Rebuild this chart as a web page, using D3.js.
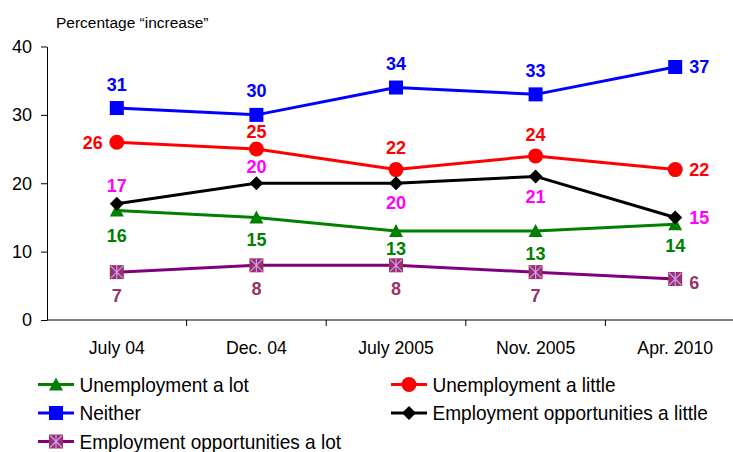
<!DOCTYPE html>
<html>
<head>
<meta charset="utf-8">
<script src="https://cdn.jsdelivr.net/npm/d3@7"></script>
<style>
  html, body { margin: 0; padding: 0; background: #fff; }
  svg { display: block; }
  text { font-family: "Liberation Sans", Arial, sans-serif; }
</style>
</head>
<body>
<svg id="chart" width="733" height="452"></svg>
<script>
// Survey waves
const categories = ["July 04", "Dec. 04", "July 2005", "Nov. 2005", "Apr. 2010"];
// Percentage of respondents per answer
const unemploymentLot = [16, 15, 13, 13, 14];
const unemploymentLittle = [26, 25, 22, 24, 22];
const neither = [31, 30, 34, 33, 37];
const employmentLittle = [17, 20, 20, 21, 15];
const employmentLot = [7, 8, 8, 7, 6];
const yTicks = [0, 10, 20, 30, 40];

const svg = d3.select("#chart");

const x = d3.scaleBand().domain(categories).range([47, 745]).paddingInner(0).paddingOuter(0);
const y = d3.scaleLinear().domain([0, 40]).range([320, 46.5]);

// where each value label sits relative to its point: [dx, dy, anchor]
const A = (dy) => [0, dy, "middle"];
const R = [14, 0, "start"];
const L = [-14, 0, "end"];

const series = [
  { name: "Unemployment a lot", values: unemploymentLot, line: "#008000", labelColor: "#008000", marker: "triangle",
    labels: [A(25), A(22), A(17), A(22), A(21)] },
  { name: "Unemployment a little", values: unemploymentLittle, line: "#FF0000", labelColor: "#FF0000", marker: "circle",
    labels: [L, A(-18), A(-22), A(-21), R] },
  { name: "Neither", values: neither, line: "#0000FF", labelColor: "#0000FF", marker: "square",
    labels: [A(-24), A(-24), A(-24), A(-24), R] },
  { name: "Employment opportunities a little", values: employmentLittle, line: "#000000", labelColor: "#FF00FF", marker: "diamond",
    labels: [A(-18), A(-17), A(19), A(20), R] },
  { name: "Employment opportunities a lot", values: employmentLot, line: "#800080", labelColor: "#993366", marker: "star",
    labels: [A(23), A(23), A(23), A(23), [14, 4, "start"]] }
];

function drawMarker(g, type, color) {
  if (type === "triangle") {
    g.append("path").attr("d", "M0,-7 L7,6 L-7,6 Z").attr("fill", color);
  } else if (type === "circle") {
    g.append("circle").attr("r", 7.5).attr("fill", color);
  } else if (type === "square") {
    g.append("rect").attr("x", -7).attr("y", -7).attr("width", 14).attr("height", 14).attr("fill", color);
  } else if (type === "diamond") {
    g.append("path").attr("d", "M0,-7 L7,0 L0,7 L-7,0 Z").attr("fill", "#000");
  } else if (type === "star") {
    g.append("rect").attr("x", -7).attr("y", -7).attr("width", 14).attr("height", 14).attr("fill", "#993366");
    g.append("path").attr("d", "M-6,-6 L6,6 M-6,6 L6,-6 M0,-7 L0,7")
      .attr("stroke", "#CC99FF").attr("stroke-width", 1.2).attr("fill", "none");
  }
}

// Title
svg.append("text").attr("x", 56).attr("y", 28).attr("font-size", 15.5).attr("fill", "#000")
  .text("Percentage \u201cincrease\u201d");

// Y axis
const yAxis = svg.append("g").attr("transform", "translate(47,0)")
  .call(d3.axisLeft(y).tickValues(yTicks).tickSize(6).tickPadding(9).tickSizeOuter(0));
yAxis.select(".domain").attr("stroke", "#000");
yAxis.selectAll(".tick line").attr("stroke", "#000");
yAxis.selectAll(".tick text").attr("font-size", 18).attr("font-family", "Liberation Sans, Arial, sans-serif").attr("fill", "#000");

// X axis with ticks on category boundaries
const xAxis = svg.append("g").attr("transform", "translate(0,320)");
xAxis.append("line").attr("x1", 47).attr("x2", 745).attr("stroke", "#000");
xAxis.selectAll("line.tk").data(categories.slice(1)).join("line").attr("class", "tk")
  .attr("x1", d => x(d)).attr("x2", d => x(d)).attr("y1", 0).attr("y2", 6).attr("stroke", "#000");
xAxis.selectAll("text").data(categories).join("text")
  .attr("x", d => x(d) + x.bandwidth() / 2).attr("y", 34)
  .attr("text-anchor", "middle").attr("font-size", 17.7).attr("fill", "#000")
  .text(d => d);

const cx = (i) => x(categories[i]) + x.bandwidth() / 2;
const line = d3.line().x((d, i) => cx(i)).y(d => y(d));

// Lines and markers
series.forEach(s => {
  const g = svg.append("g");
  g.append("path").datum(s.values).attr("d", line).attr("fill", "none")
    .attr("stroke", s.line).attr("stroke-width", 3).attr("stroke-linejoin", "round");
  s.values.forEach((v, i) => {
    const m = g.append("g").attr("transform", `translate(${cx(i)},${y(v)})`);
    drawMarker(m, s.marker, s.line);
  });
});
// Value labels
series.forEach(s => {
  svg.append("g").selectAll("text").data(s.values).join("text")
    .attr("x", (v, i) => cx(i) + s.labels[i][0])
    .attr("y", (v, i) => y(v) + s.labels[i][1])
    .attr("dy", "0.36em")
    .attr("text-anchor", (v, i) => s.labels[i][2])
    .attr("font-size", 18).attr("font-weight", "bold").attr("fill", s.labelColor)
    .text(v => v);
});

// Legend, two columns
const legendPos = [
  [38, 384.5], [391, 384.5], [38, 413], [391, 413], [38, 441.5]
];
series.forEach((s, k) => {
  const [lx, ly] = legendPos[k];
  const g = svg.append("g").attr("transform", `translate(${lx},${ly})`);
  g.append("line").attr("x1", 0).attr("x2", 36).attr("stroke", s.line).attr("stroke-width", 3);
  const m = g.append("g").attr("transform", "translate(18,0)");
  drawMarker(m, s.marker, s.line);
  g.append("text").attr("x", 41.5).attr("y", 0).attr("dy", "0.36em")
    .attr("font-size", 20.5).attr("fill", "#000")
    .attr("transform", "translate(41.5,0) scale(0.93,1) translate(-41.5,0)")
    .text(s.name);
});
</script>
</body>
</html>
